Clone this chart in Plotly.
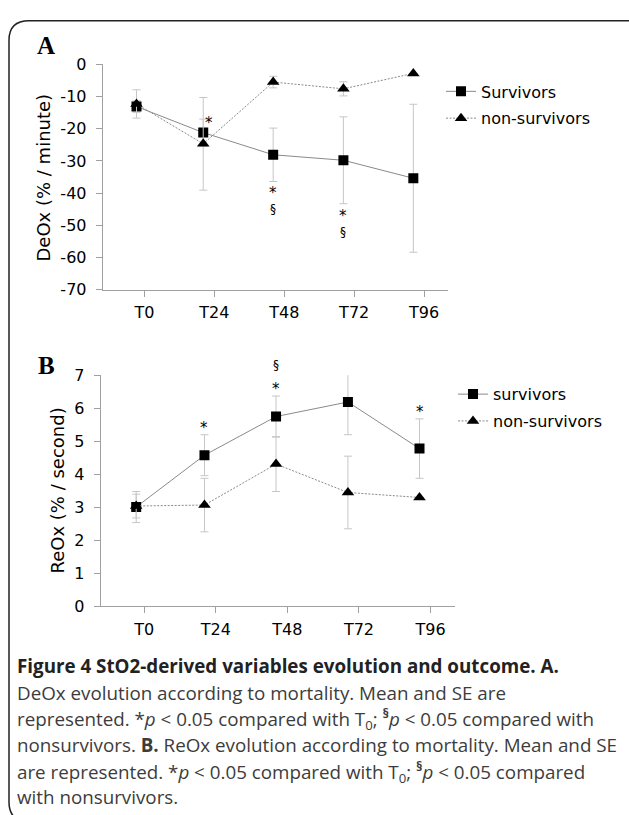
import plotly.graph_objects as go

W, H = 629, 815

# ---------------- data ----------------
timepoints = ["T0", "T24", "T48", "T72", "T96"]
nominal_hours = [0, 24, 48, 72, 96]
measured_hours = [-2.7, 20.2, 44.2, 68.3, 92.3]

deox_ticks = [0, -10, -20, -30, -40, -50, -60, -70]
deox_surv = [-13.1, -21.2, -28.1, -29.8, -35.4]
deox_surv_se = [1.8, 4.2, 8.3, 13.5, 23.0]
deox_non = [-12.3, -24.7, -5.5, -7.6, -2.8]
deox_non_se = [4.4, 14.4, 1.8, 2.2, 0.0]
deox_sig = ["", "*", "*§", "*§", ""]

reox_ticks = [0, 1, 2, 3, 4, 5, 6, 7]
reox_surv = [3.01, 4.58, 5.75, 6.19, 4.78]
reox_surv_se = [0.47, 0.62, 0.62, 0.99, 0.90]
reox_non = [3.04, 3.07, 4.31, 3.45, 3.30]
reox_non_se = [0.36, 0.81, 0.83, 1.10, 0.0]
reox_sig = ["", "*", "*§", "*§", "*"]

legend_A = ["Survivors", "non-survivors"]
legend_B = ["survivors", "non-survivors"]

caption_lines = [
    "<b>Figure 4 StO2-derived variables evolution and outcome. A.</b>",
    "DeOx evolution according to mortality. Mean and SE are",
    "represented. *<i>p</i> &lt; 0.05 compared with T<sub>0</sub>; <sup><b>§</b></sup><i>p</i> &lt; 0.05 compared with",
    "nonsurvivors. <b>B.</b> ReOx evolution according to mortality. Mean and SE",
    "are represented. *<i>p</i> &lt; 0.05 compared with T<sub>0</sub>; <sup><b>§</b></sup><i>p</i> &lt; 0.05 compared",
    "with nonsurvivors.",
]

# ---------------- helpers ----------------
def px(x):
    return x / W

def py(y):
    return 1 - y / H

FONT = "DejaVu Sans"
LINE_GRAY = "#8a8a8a"
ERR_GRAY = "#c6c6c6"
AXIS_GRAY = "#a0a0a0"

fig = go.Figure()

def add_pair(xa, ya, surv, surv_se, non, non_se, names, legend):
    fig.add_trace(go.Scatter(
        x=measured_hours, y=surv, name=names[0], mode="lines+markers",
        xaxis=xa, yaxis=ya, legend=legend, legendgroup=legend + "s",
        line=dict(color=LINE_GRAY, width=1),
        marker=dict(symbol="square", size=10, color="black"),
        error_y=dict(type="data", array=surv_se, color=ERR_GRAY, thickness=1, width=4),
    ))
    fig.add_trace(go.Scatter(
        x=measured_hours, y=non, name=names[1], mode="lines+markers",
        xaxis=xa, yaxis=ya, legend=legend, legendgroup=legend + "n",
        line=dict(color=LINE_GRAY, width=1, dash="2px,1.5px"),
        marker=dict(symbol="triangle-up", size=11, color="black"),
        error_y=dict(type="data", array=non_se, color=ERR_GRAY, thickness=1, width=4),
    ))

add_pair("x", "y", deox_surv, deox_surv_se, deox_non, deox_non_se, legend_A, "legend")
add_pair("x2", "y2", reox_surv, reox_surv_se, reox_non, reox_non_se, legend_B, "legend2")

annotations = []
STAR = dict(family=FONT, size=15, color="black")
SECT = dict(family=FONT, size=12, color="black")

# significance marks, panel A (below lower SE bar of survivors; T24 beside the point)
for i, s in enumerate(deox_sig):
    if not s:
        continue
    if i == 1:
        annotations.append(dict(x=measured_hours[i], y=deox_surv[i], xref="x", yref="y",
                                text="*", showarrow=False, xshift=6, yshift=10, font=STAR))
        continue
    base = deox_surv[i] - deox_surv_se[i]
    annotations.append(dict(x=measured_hours[i], y=base, xref="x", yref="y", text="*",
                            showarrow=False, yshift=-12, font=STAR))
    if "§" in s:
        annotations.append(dict(x=measured_hours[i], y=base, xref="x", yref="y", text="§",
                                showarrow=False, yshift=-28, font=SECT))

# significance marks, panel B (above upper SE bar of survivors)
for i, s in enumerate(reox_sig):
    if not s:
        continue
    base = reox_surv[i] + reox_surv_se[i]
    annotations.append(dict(x=measured_hours[i], y=base, xref="x2", yref="y2", text="*",
                            showarrow=False, yshift=7, font=STAR))
    if "§" in s:
        annotations.append(dict(x=measured_hours[i], y=base, xref="x2", yref="y2", text="§",
                                showarrow=False, yshift=31, font=SECT))

def paper_text(x, y, text, font, **kw):
    d = dict(x=px(x), y=py(y), xref="paper", yref="paper", text=text, showarrow=False,
             xanchor="center", yanchor="middle", font=font)
    d.update(kw)
    annotations.append(d)

# axis titles
paper_text(43.5, 172, "DeOx (% / minute)", dict(family=FONT, size=18, color="black"), textangle=-90)
paper_text(58, 493, "ReOx (% / second)", dict(family=FONT, size=18, color="black"), textangle=-90)

# panel letters
paper_text(45.5, 37, "<b>A</b>", dict(family="Liberation Serif", size=25, color="black"))
paper_text(46, 365, "<b>B</b>", dict(family="Liberation Serif", size=25, color="black"))

# caption
cap_y = [673, 700, 727, 754, 781, 807]
for yy, txt in zip(cap_y, caption_lines):
    paper_text(15, yy, txt,
               dict(family="Open Sans", size=18.8,
                    color="#222" if txt.startswith("<b>") else "#3c3c3c"),
               xanchor="left")

axis_common = dict(showline=True, linecolor=AXIS_GRAY, linewidth=1, ticks="outside",
                   ticklen=6, tickcolor=AXIS_GRAY, tickwidth=1, showgrid=False, zeroline=False,
                   tickfont=dict(family=FONT, size=16, color="black"))

fig.update_layout(
    width=W, height=H,
    margin=dict(l=0, r=0, t=0, b=0),
    paper_bgcolor="white", plot_bgcolor="white",
    xaxis=dict(domain=[px(102.7), px(448.3)], range=[-14.3, 104.3], anchor="y",
               tickvals=nominal_hours, ticktext=timepoints, ticklabelstandoff=2, **axis_common),
    yaxis=dict(domain=[py(287.3), py(56.7)], range=[-70, 0], anchor="x",
               tickvals=deox_ticks, ticktext=[str(v) for v in deox_ticks],
               ticklabelstandoff=6, **axis_common),
    xaxis2=dict(domain=[px(100.7), px(455)], range=[-14.6, 104.2], anchor="y2",
                tickvals=nominal_hours, ticktext=timepoints, ticklabelstandoff=2, **axis_common),
    yaxis2=dict(domain=[py(611.7), py(375)], range=[0, 7], anchor="x2",
                tickvals=reox_ticks, ticktext=[str(v) for v in reox_ticks],
                ticklabelstandoff=6, **axis_common),
    legend=dict(x=px(441), y=py(67), xanchor="left", yanchor="top",
                font=dict(family=FONT, size=16, color="black"), bgcolor="rgba(0,0,0,0)",
                tracegroupgap=3),
    legend2=dict(x=px(453), y=py(377), xanchor="left", yanchor="top",
                 font=dict(family=FONT, size=16, color="black"), bgcolor="rgba(0,0,0,0)",
                 tracegroupgap=3),
    annotations=annotations,
    showlegend=True,
)

# rounded border frame
r = 20
x0, y0, x1, y1 = 9, 12, 650, 832
path = (f"M {px(x1)},{py(y0)} L {px(x0 + r)},{py(y0)} Q {px(x0)},{py(y0)} {px(x0)},{py(y0 + r)} "
        f"L {px(x0)},{py(y1 - r)} Q {px(x0)},{py(y1)} {px(x0 + r)},{py(y1)} L {px(x1)},{py(y1)}")
fig.add_shape(type="path", path=path, xref="paper", yref="paper",
              line=dict(color="#222", width=1.5), layer="above")

fig.write_html("out.html", config={"displayModeBar": False},
               post_script="document.body.style.margin='0';")
